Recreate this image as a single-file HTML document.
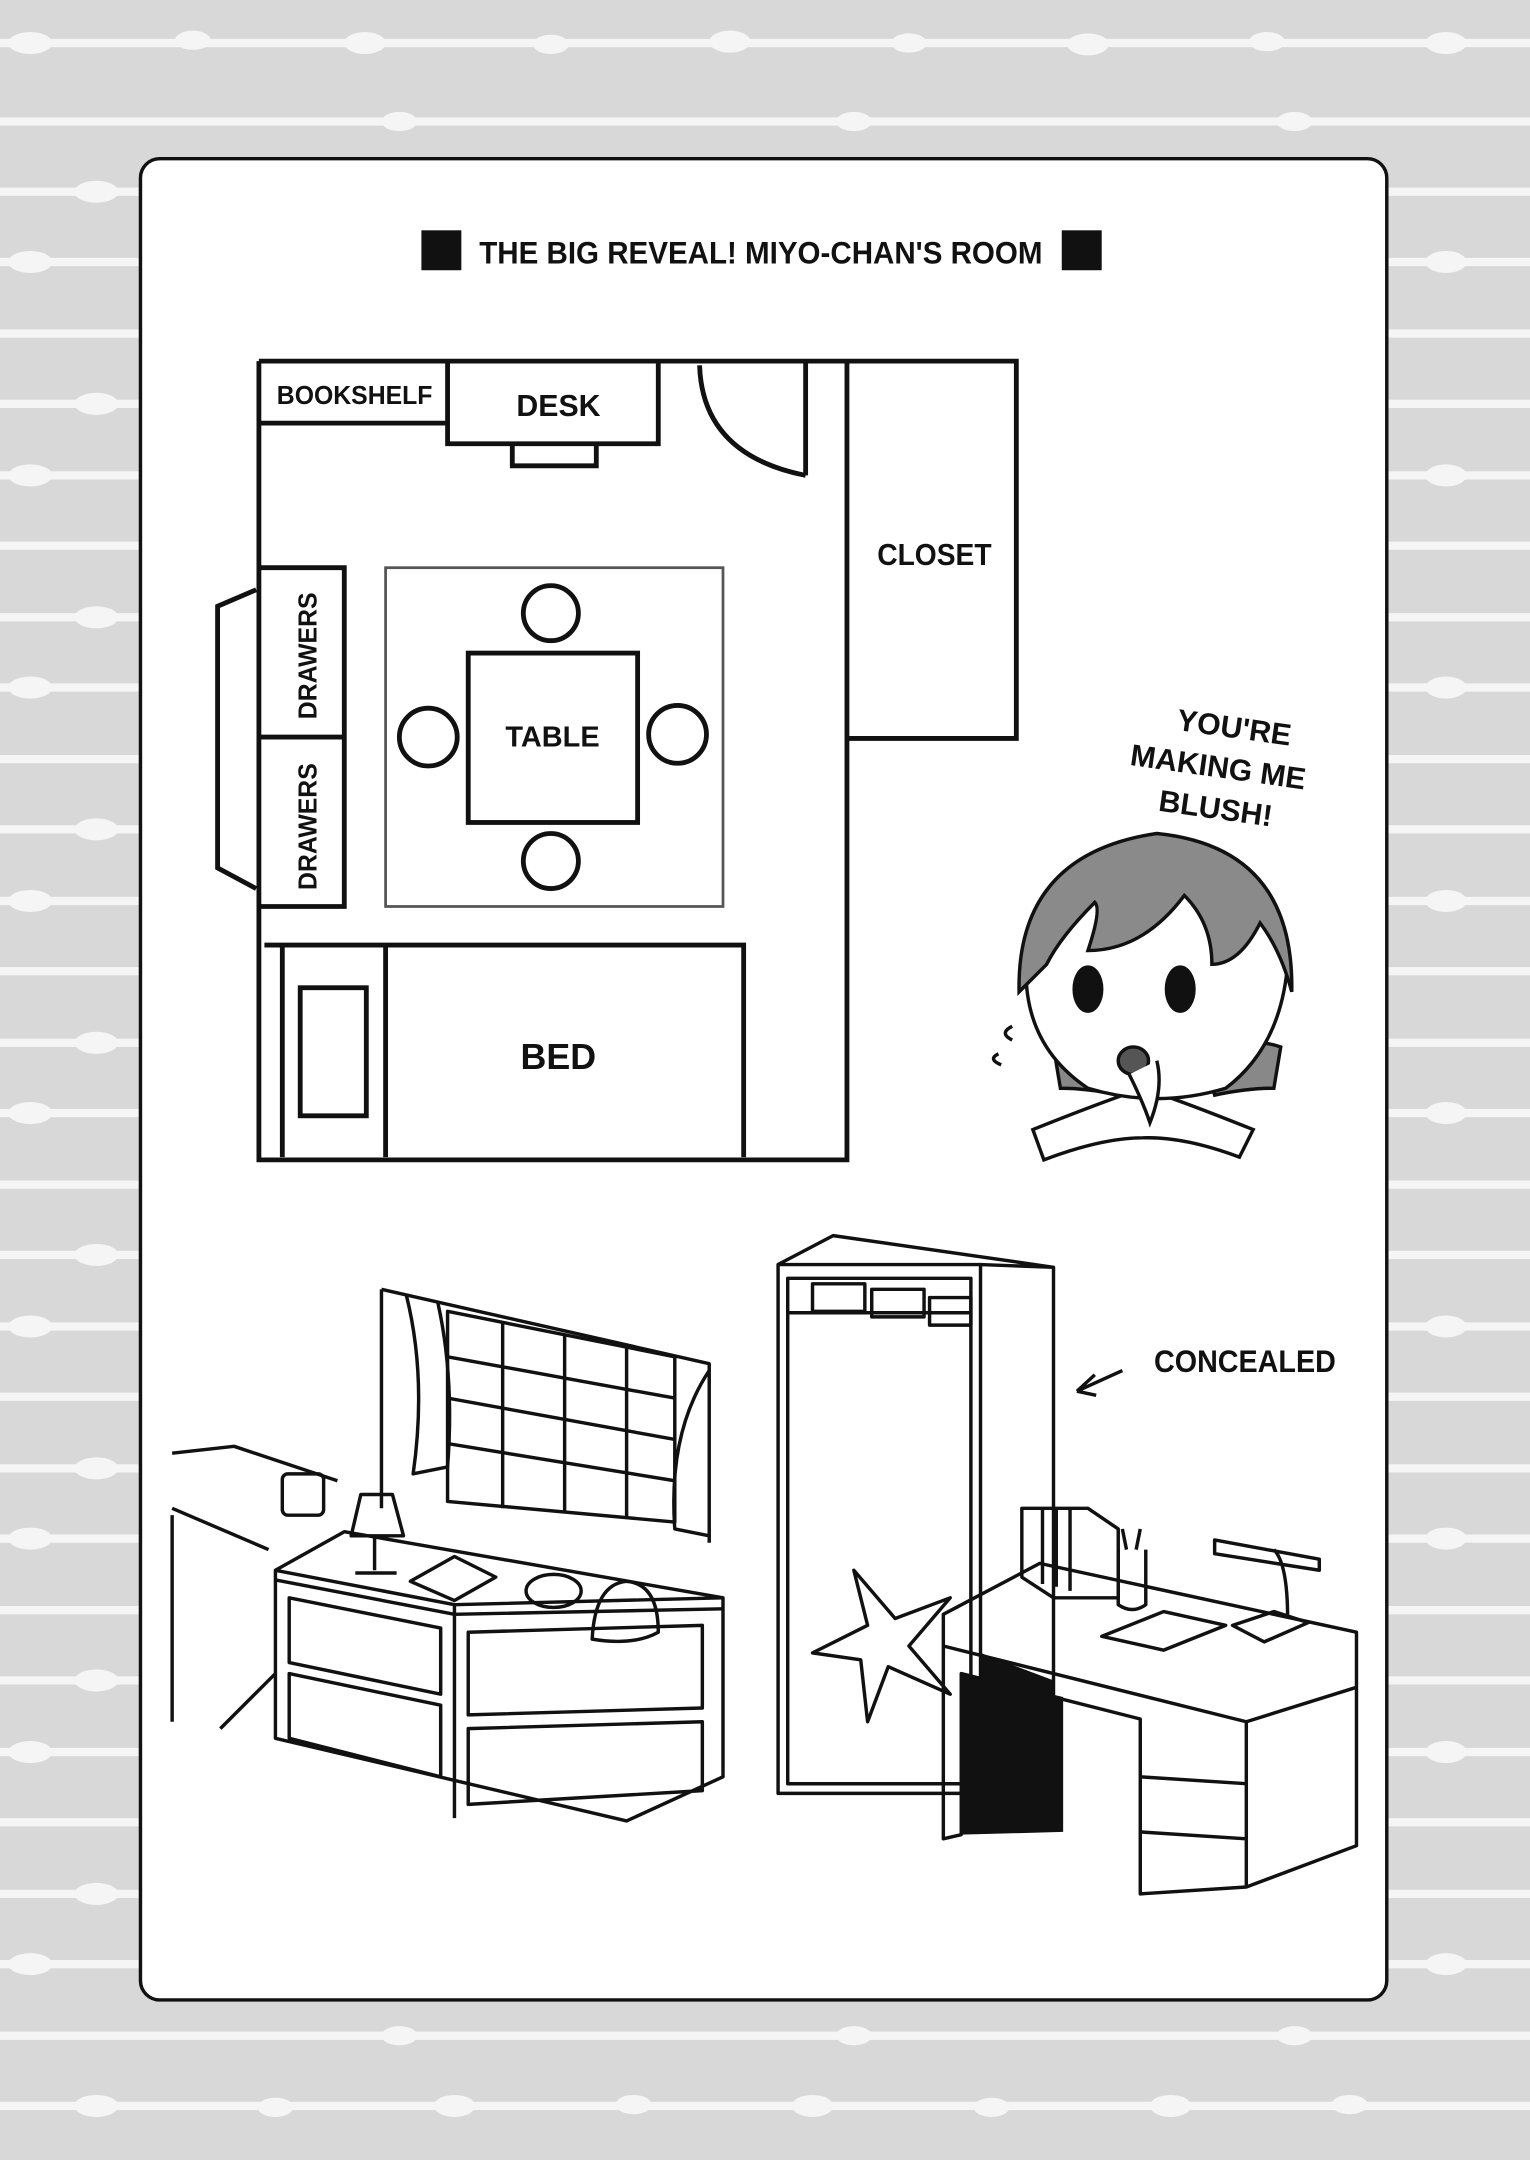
<!DOCTYPE html>
<html><head><meta charset="utf-8"><style>
html,body{margin:0;padding:0;background:#d8d8d8}
svg{display:block}
text{font-family:"Liberation Sans",sans-serif;font-weight:bold;fill:#111}
</style></head><body>
<svg width="1530" height="2160" viewBox="0 0 1111 1568" xmlns="http://www.w3.org/2000/svg">
<defs>
<g id="row">
<rect x="0" y="-3" width="1111" height="6" fill="#f5f5f5"/>
<ellipse cx="22" cy="0" rx="16" ry="8" fill="#f5f5f5"/>
<ellipse cx="140" cy="-2" rx="13" ry="7" fill="#f5f5f5"/>
<ellipse cx="265" cy="0" rx="15" ry="8" fill="#f5f5f5"/>
<ellipse cx="400" cy="1" rx="13" ry="7" fill="#f5f5f5"/>
<ellipse cx="530" cy="-1" rx="15" ry="8" fill="#f5f5f5"/>
<ellipse cx="660" cy="0" rx="13" ry="7" fill="#f5f5f5"/>
<ellipse cx="790" cy="1" rx="15" ry="8" fill="#f5f5f5"/>
<ellipse cx="920" cy="-1" rx="13" ry="7" fill="#f5f5f5"/>
<ellipse cx="1050" cy="0" rx="15" ry="8" fill="#f5f5f5"/>
</g>
<g id="row2">
<rect x="0" y="-3" width="1111" height="6" fill="#f5f5f5"/>
<ellipse cx="70" cy="0" rx="16" ry="8" fill="#f5f5f5"/>
<ellipse cx="200" cy="1" rx="13" ry="7" fill="#f5f5f5"/>
<ellipse cx="330" cy="0" rx="15" ry="8" fill="#f5f5f5"/>
<ellipse cx="460" cy="-1" rx="13" ry="7" fill="#f5f5f5"/>
<ellipse cx="590" cy="0" rx="15" ry="8" fill="#f5f5f5"/>
<ellipse cx="720" cy="1" rx="13" ry="7" fill="#f5f5f5"/>
<ellipse cx="850" cy="0" rx="15" ry="8" fill="#f5f5f5"/>
<ellipse cx="980" cy="-1" rx="13" ry="7" fill="#f5f5f5"/>
</g>
<g id="row3">
<rect x="0" y="-3" width="1111" height="6" fill="#f5f5f5"/>
<ellipse cx="290" cy="0" rx="13" ry="7" fill="#f5f5f5"/>
<ellipse cx="620" cy="0" rx="13" ry="7" fill="#f5f5f5"/>
<ellipse cx="940" cy="0" rx="13" ry="7" fill="#f5f5f5"/>
</g>
</defs>
<rect width="1111" height="1568" fill="#d8d8d8"/>
<g>
<use href="#row" y="31"/><use href="#row3" y="88"/><use href="#row2" y="139"/>
<use href="#row" y="190"/><use href="#row3" y="242"/><use href="#row2" y="293"/>
<use href="#row" y="345"/><use href="#row3" y="396"/><use href="#row2" y="448"/>
<use href="#row" y="499"/><use href="#row3" y="551"/><use href="#row2" y="602"/>
<use href="#row" y="654"/><use href="#row3" y="705"/><use href="#row2" y="757"/>
<use href="#row" y="808"/><use href="#row3" y="860"/><use href="#row2" y="911"/>
<use href="#row" y="963"/><use href="#row3" y="1014"/><use href="#row2" y="1066"/>
<use href="#row" y="1117"/><use href="#row3" y="1169"/><use href="#row2" y="1220"/>
<use href="#row" y="1272"/><use href="#row3" y="1323"/><use href="#row2" y="1375"/>
<use href="#row" y="1426"/><use href="#row3" y="1478"/><use href="#row2" y="1529"/>
</g>
<rect x="102" y="115" width="905" height="1337" rx="14" fill="#fff" stroke="#111" stroke-width="2.5"/>

<!-- title -->
<rect x="306" y="167" width="29" height="29" fill="#111"/>
<rect x="771" y="167" width="29" height="29" fill="#111"/>
<text x="348" y="191" font-size="23" font-weight="normal" textLength="409" lengthAdjust="spacingAndGlyphs">THE BIG REVEAL! MIYO-CHAN'S ROOM</text>

<!-- floor plan -->
<g fill="none" stroke="#111" stroke-width="3.5">
<path d="M188 262 H738 V536 H615 M615 262 V842 H188 V262"/>
<path d="M188 307 H325 M325 262 V322 H478 V262 M372 322 V338 H433 V322"/>
<path d="M508 265 Q510 330 585 345 M585 262 V345"/>
<path d="M188 412 H250 V658 H188 M188 535 H250"/>
<path d="M186 428 L158 440 V630 L186 645"/>
<rect x="340" y="474" width="123" height="123"/>
<circle cx="400" cy="445" r="20"/><circle cx="311" cy="535" r="21"/><circle cx="492" cy="533" r="21"/><circle cx="400" cy="625" r="20"/>
<path d="M192 686 H540 V840 M205 686 V840 M280 686 V840"/>
<rect x="218" y="717" width="48" height="93"/>
</g>
<rect x="280" y="412" width="245" height="246" fill="none" stroke="#555" stroke-width="2"/>
<text x="201" y="293" font-size="19" font-weight="normal" textLength="113" lengthAdjust="spacingAndGlyphs">BOOKSHELF</text>
<text x="375" y="302" font-size="22" font-weight="normal">DESK</text>
<text x="637" y="410" font-size="22" font-weight="normal" textLength="83" lengthAdjust="spacingAndGlyphs">CLOSET</text>
<text x="367" y="542" font-size="21" font-weight="normal">TABLE</text>
<text x="378" y="776" font-size="26">BED</text>
<text transform="translate(230,522) rotate(-90)" font-size="19" font-weight="normal" textLength="92" lengthAdjust="spacingAndGlyphs">DRAWERS</text>
<text transform="translate(230,646) rotate(-90)" font-size="19" font-weight="normal" textLength="92" lengthAdjust="spacingAndGlyphs">DRAWERS</text>

<!-- speech -->
<g transform="rotate(8 890 560)">
<text x="850" y="535" font-size="22" font-weight="normal">YOU'RE</text>
<text x="820" y="565" font-size="22" font-weight="normal">MAKING ME</text>
<text x="845" y="595" font-size="22" font-weight="normal">BLUSH!</text>
</g>

<!-- character -->
<g stroke="#111" stroke-width="2.5">
<path d="M750 820 Q800 800 830 790 Q860 800 910 820 L900 840 Q860 825 830 826 Q800 826 758 842 Z" fill="#fff"/>
<path d="M765 760 Q795 750 820 770 L812 795 Q790 790 770 790 Z" fill="#888"/>
<path d="M930 760 Q900 750 875 770 L882 795 Q905 790 925 790 Z" fill="#888"/>
<path d="M745 705 Q760 620 840 610 Q925 615 935 700 Q930 760 890 790 Q840 805 790 790 Q745 760 745 705 Z" fill="#fff"/>
<path d="M740 720 Q738 620 840 605 Q940 615 938 720 Q930 690 915 670 Q900 700 880 700 Q880 670 860 650 Q830 690 790 690 Q800 660 795 655 Q770 680 760 700 Z" fill="#8a8a8a"/>
<ellipse cx="790" cy="718" rx="10" ry="16" fill="#111"/>
<ellipse cx="857" cy="718" rx="10" ry="16" fill="#111"/>
<ellipse cx="823" cy="770" rx="11" ry="10" fill="#555"/>
<path d="M820 780 Q830 800 835 815 Q845 790 840 770" fill="#fff"/>
<path d="M735 745 q-10 5 0 10 M725 765 q-8 4 2 8" fill="none"/>
</g>

<!-- bottom: left bed & dresser -->
<g fill="none" stroke="#111" stroke-width="2.5" stroke-linejoin="round">
<path d="M125 1055 L170 1050 L245 1075 M125 1095 L195 1125 M125 1100 L125 1250 M160 1255 L200 1215"/>
<path d="M200 1140 L250 1112 L525 1160 L525 1290 L455 1322 L200 1262 Z"/>
<path d="M200 1140 L330 1165 L525 1160 M330 1165 V1320 M200 1147 L330 1172 L525 1168"/>
<path d="M210 1160 L320 1182 V1230 L210 1207 Z M210 1215 L320 1238 V1290 L210 1262 Z"/>
<path d="M340 1185 L510 1180 V1240 L340 1245 Z M340 1255 L510 1250 V1300 L340 1310 Z"/>
<path d="M255 1115 L262 1085 L285 1085 L293 1115 Z M272 1115 V1140 M258 1142 H288"/>
<rect x="205" y="1070" width="30" height="30" rx="4"/>
<path d="M298 1148 L330 1130 L360 1145 L330 1162 Z"/>
<ellipse cx="402" cy="1155" rx="20" ry="12"/>
<path d="M430 1190 Q432 1150 455 1148 Q478 1150 478 1185 Q460 1195 430 1190 Z"/>
<path d="M277 936 L515 990 V1120 M277 936 V1095"/>
<path d="M325 952 L490 985 V1105 L325 1090 Z"/>
<path d="M365 960 V1095 M410 968 V1098 M455 978 V1102 M325 985 L490 1015 M325 1015 L490 1045 M325 1048 L490 1075"/>
<path d="M295 940 Q310 1000 300 1070 L325 1065 Q330 1000 318 946 M515 995 Q485 1040 490 1110 L515 1115"/>
<path d="M565 918 L712 918 L712 1302 L565 1302 Z M565 918 L605 897 L765 920 L765 1240 L712 1302 M712 918 L765 920"/>
<path d="M572 928 H705 V1295 H572 Z M572 953 H705"/>
<rect x="590" y="932" width="38" height="20"/><rect x="633" y="936" width="38" height="20"/><rect x="675" y="942" width="30" height="20"/>
<path d="M620 1140 L650 1175 L690 1160 L660 1195 L690 1230 L645 1210 L630 1250 L625 1205 L590 1200 L630 1180 Z"/>
<path d="M685 1172 L755 1135 L985 1185 L985 1225 L905 1250 L685 1195 Z M685 1195 V1335 L698 1332 V1215 L828 1248 V1375 L905 1370 V1250 M985 1225 V1340 L905 1370"/>
<path d="M828 1290 L905 1295 M828 1330 L905 1335"/>
<path d="M742 1095 L790 1095 L812 1110 L812 1160 L765 1160 L742 1145 Z M757 1095 V1150 M767 1095 V1152 M777 1095 V1155"/>
<path d="M812 1125 V1165 Q822 1172 832 1165 V1125 M818 1125 L815 1110 M825 1125 L828 1110"/>
<path d="M800 1188 L845 1170 L890 1180 L845 1198 Z"/>
<path d="M895 1180 L925 1170 L950 1178 L918 1192 Z M935 1175 Q935 1135 925 1125 M882 1118 L958 1132 L958 1140 L882 1128 Z"/>
<path d="M815 995 L782 1010 M782 1010 L795 998 M782 1010 L796 1013"/>
</g>
<path d="M698 1215 L772 1232 V1330 L698 1332 Z" fill="#111"/>
<path d="M712 1200 V1302 L765 1240 V1220 Z" fill="#111"/>
<text x="838" y="996" font-size="23" font-weight="normal" textLength="132" lengthAdjust="spacingAndGlyphs">CONCEALED</text>
</svg>
</body></html>
